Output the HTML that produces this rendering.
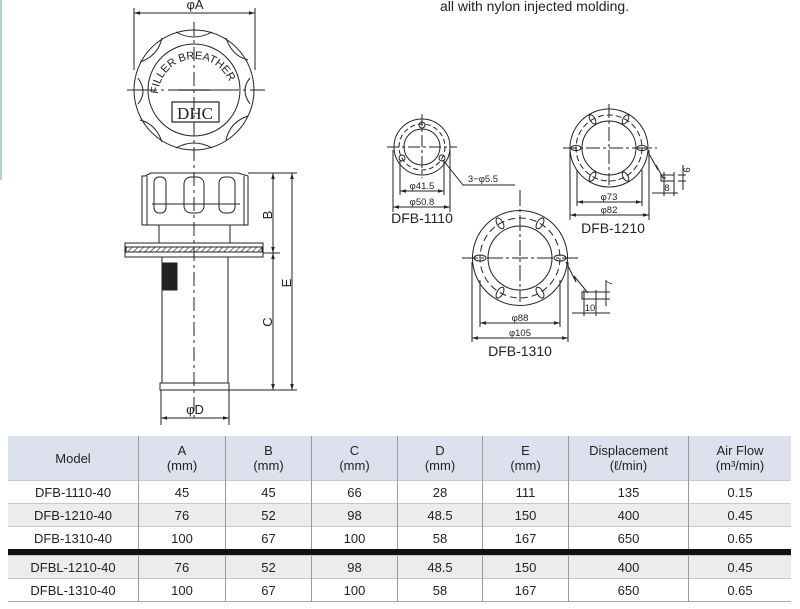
<!DOCTYPE html>
<html><head><meta charset="utf-8"><style>
body{margin:0;background:#fff;width:800px;height:609px;overflow:hidden;font-family:"Liberation Sans",sans-serif}
svg{position:absolute;left:0;top:0}
table{position:absolute;left:8px;top:436px;border-collapse:collapse;font-size:13px;color:#222}
td{text-align:center;padding:0;border-left:1px solid #9a9a9a;line-height:15px}
td:first-child{border-left:none}
tr.h td{background:#dde1ee;height:44px;font-size:13px}
tr.r td{height:22px;border-top:1px solid #c8c8c8}
tr.g td{background:#ececec}
tr.bar td{height:6px;background:#111;border:none}
table{border-bottom:1px solid #aaa}
</style></head><body>
<svg width="800" height="609" viewBox="0 0 800 609" font-family="Liberation Sans, sans-serif">
<defs>
<pattern id="hat" width="4" height="4" patternUnits="userSpaceOnUse" patternTransform="rotate(45)"><line x1="0" y1="0" x2="0" y2="4" stroke="#333" stroke-width="1.4"/></pattern>
<marker id="ar" viewBox="0 0 10 10" refX="10" refY="5" markerWidth="6" markerHeight="6" orient="auto-start-reverse"><path d="M0,2 L10,5 L0,8z" fill="#222"/></marker>
</defs>
<rect x="0" y="0" width="2" height="180" fill="#b8cfcc"/>
<text x="440" y="11" font-size="14" fill="#222">all with nylon injected molding.</text>
<g stroke="#222" fill="none" stroke-width="1">
<line x1="134" y1="8" x2="134" y2="70"/><line x1="255" y1="8" x2="255" y2="70"/>
<line x1="134" y1="13" x2="255" y2="13" marker-start="url(#ar)" marker-end="url(#ar)"/>
<circle cx="194" cy="90" r="60"/>
<circle cx="194" cy="90" r="46"/>
<path d="M176,32 q18,10 36,0 M226,38 q6,18 22,22 M250,78 q-10,12 0,26 M248,116 q-18,6 -22,24 M212,148 q-18,-10 -36,0 M162,142 q-6,-18 -22,-22 M138,104 q10,-12 0,-26 M140,62 q18,-6 22,-24"/>
<line x1="127" y1="90" x2="265" y2="90" stroke-dasharray="30,4,3,4"/>
<line x1="194" y1="22" x2="194" y2="420" stroke-dasharray="14,4,3,4"/>
<line x1="178" y1="90" x2="210" y2="90" stroke-width="1.3"/>
<rect x="172" y="102" width="47" height="20" stroke-width="1.2"/>
<path d="M145,176 L151,173 L238,173 L248,176 L248,225 L142,225 L142,176 Z"/>
<path d="M147,176 L147,225 M244,176 L244,225"/>
<rect x="154" y="177" width="12" height="36" rx="5"/>
<rect x="184" y="177" width="20" height="36" rx="7"/>
<rect x="219" y="177" width="16" height="36" rx="6"/>
<line x1="152" y1="204" x2="240" y2="204"/>
<rect x="159" y="225" width="71" height="18"/>
<rect x="125" y="243" width="138" height="14"/>
<rect x="126" y="247" width="136" height="5" fill="url(#hat)"/>
<rect x="162" y="257" width="66" height="126"/>
<rect x="163" y="263" width="14" height="27" fill="#222"/>
<rect x="160" y="383" width="69" height="7"/>
<line x1="248" y1="173" x2="297" y2="173"/>
<line x1="263" y1="253" x2="280" y2="253"/>
<line x1="229" y1="390" x2="297" y2="390"/>
<line x1="273" y1="173" x2="273" y2="253" marker-start="url(#ar)" marker-end="url(#ar)"/>
<line x1="273" y1="253" x2="273" y2="390" marker-start="url(#ar)" marker-end="url(#ar)"/>
<line x1="292" y1="173" x2="292" y2="390" marker-start="url(#ar)" marker-end="url(#ar)"/>
<line x1="161" y1="390" x2="161" y2="425"/><line x1="229" y1="390" x2="229" y2="425"/>
<line x1="161" y1="418" x2="229" y2="418" marker-start="url(#ar)" marker-end="url(#ar)"/>
<circle cx="422" cy="147" r="28"/><circle cx="422" cy="147" r="18"/>
<circle cx="422" cy="147" r="23" stroke-dasharray="5,3"/>
<line x1="387" y1="147" x2="457" y2="147" stroke-dasharray="12,3,3,3"/>
<line x1="422" y1="114" x2="422" y2="178" stroke-dasharray="12,3,3,3"/>
<circle cx="422" cy="125" r="3"/><circle cx="402" cy="158" r="3"/><circle cx="442" cy="158" r="3"/>
<line x1="393" y1="150" x2="393" y2="212"/><line x1="450" y1="150" x2="450" y2="212"/>
<line x1="400" y1="160" x2="400" y2="195"/><line x1="444" y1="160" x2="444" y2="195"/>
<line x1="400" y1="191" x2="444" y2="191" marker-start="url(#ar)" marker-end="url(#ar)"/>
<line x1="393" y1="207" x2="450" y2="207" marker-start="url(#ar)" marker-end="url(#ar)"/>
<polyline points="443,160 463,185 515,185"/>
<circle cx="609" cy="148" r="39"/><circle cx="609" cy="148" r="27"/>
<circle cx="609" cy="148" r="33" stroke-dasharray="6,3"/>
<line x1="563" y1="148" x2="657" y2="148" stroke-dasharray="14,3,3,3"/>
<line x1="609" y1="104" x2="609" y2="185" stroke-dasharray="14,3,3,3"/>
<g transform="translate(609,148)">
<ellipse cx="-33" cy="0" rx="5" ry="2.5"/><ellipse cx="33" cy="0" rx="5" ry="2.5"/>
<ellipse cx="0" cy="0" rx="5" ry="2.5" transform="rotate(-60) translate(33,0)"/>
<ellipse cx="0" cy="0" rx="5" ry="2.5" transform="rotate(-120) translate(33,0)"/>
<ellipse cx="0" cy="0" rx="5" ry="2.5" transform="rotate(60) translate(33,0)"/>
<ellipse cx="0" cy="0" rx="5" ry="2.5" transform="rotate(120) translate(33,0)"/>
</g>
<line x1="570" y1="150" x2="570" y2="220"/><line x1="649" y1="150" x2="649" y2="220"/>
<line x1="577" y1="170" x2="577" y2="206"/><line x1="642" y1="170" x2="642" y2="206"/>
<line x1="577" y1="202" x2="642" y2="202" marker-start="url(#ar)" marker-end="url(#ar)"/>
<line x1="570" y1="215" x2="649" y2="215" marker-start="url(#ar)" marker-end="url(#ar)"/>
<polyline points="648,152 658,170 656,165 663,178 666,178"/>
<rect x="661" y="175" width="13" height="6"/>
<line x1="664" y1="172" x2="664" y2="196"/><line x1="674" y1="172" x2="674" y2="196"/>
<line x1="678" y1="175" x2="686" y2="175"/><line x1="678" y1="181" x2="686" y2="181"/>
<line x1="683" y1="165" x2="683" y2="190"/>
<line x1="652" y1="193" x2="678" y2="193"/>
<circle cx="520" cy="258" r="47.5"/><circle cx="520" cy="258" r="32"/>
<circle cx="520" cy="258" r="40" stroke-dasharray="7,4"/>
<line x1="462" y1="258" x2="578" y2="258" stroke-dasharray="16,3,3,3"/>
<line x1="520" y1="190" x2="520" y2="302" stroke-dasharray="16,3,3,3"/>
<g transform="translate(520,258)">
<ellipse cx="-40" cy="0" rx="6" ry="3"/><ellipse cx="40" cy="0" rx="6" ry="3"/>
<ellipse cx="0" cy="0" rx="6" ry="3" transform="rotate(-60) translate(40,0)"/>
<ellipse cx="0" cy="0" rx="6" ry="3" transform="rotate(-120) translate(40,0)"/>
<ellipse cx="0" cy="0" rx="6" ry="3" transform="rotate(60) translate(40,0)"/>
<ellipse cx="0" cy="0" rx="6" ry="3" transform="rotate(120) translate(40,0)"/>
</g>
<line x1="472" y1="262" x2="472" y2="342"/><line x1="568" y1="262" x2="568" y2="342"/>
<line x1="480" y1="280" x2="480" y2="327"/><line x1="560" y1="280" x2="560" y2="327"/>
<line x1="480" y1="323" x2="560" y2="323" marker-start="url(#ar)" marker-end="url(#ar)"/>
<line x1="472" y1="338" x2="568" y2="338" marker-start="url(#ar)" marker-end="url(#ar)"/>
<polyline points="566,262 576,282 574,276 588,293"/>
<rect x="582" y="292" width="14" height="7"/>
<line x1="584" y1="290" x2="584" y2="316"/><line x1="596" y1="290" x2="596" y2="316"/>
<line x1="596" y1="292" x2="610" y2="292"/><line x1="596" y1="299" x2="610" y2="299"/>
<line x1="606" y1="280" x2="606" y2="306"/>
<line x1="572" y1="313" x2="610" y2="313"/>
</g>
<g fill="#222" font-size="13">
<text x="195" y="9" text-anchor="middle">φA</text>
<text x="195" y="414" text-anchor="middle">φD</text>
<text transform="translate(272,215) rotate(-90)" text-anchor="middle">B</text>
<text transform="translate(272,322) rotate(-90)" text-anchor="middle">C</text>
<text transform="translate(291,283) rotate(-90)" text-anchor="middle">E</text>
<text x="195" y="119" text-anchor="middle" font-family="Liberation Serif, serif" font-size="17">DHC</text>
<path id="arc" d="M158,96 A37,37 0 0 1 232,96" fill="none"/>
<text font-size="11"><textPath href="#arc" startOffset="2">FILLER BREATHER</textPath></text>
<text x="422" y="223" text-anchor="middle" font-size="14">DFB-1110</text>
<text x="613" y="233" text-anchor="middle" font-size="14">DFB-1210</text>
<text x="520" y="356" text-anchor="middle" font-size="14">DFB-1310</text>
</g>
<g fill="#222" font-size="9.5" text-anchor="middle">
<text x="422" y="189">φ41.5</text><text x="422" y="205">φ50.8</text>
<text x="483" y="182">3−φ5.5</text>
<text x="609" y="200">φ73</text><text x="609" y="213">φ82</text>
<text x="520" y="321">φ88</text><text x="520" y="336">φ105</text>
<text x="667" y="191">8</text><text x="590" y="311">10</text>
<text transform="translate(690,170) rotate(-90)">6</text>
<text transform="translate(612,283) rotate(-90)">7</text>
</g>
</svg>
<table>
<tr class="h"><td style="width:130px">Model</td><td style="width:86px">A<br>(mm)</td><td style="width:85px">B<br>(mm)</td><td style="width:85px">C<br>(mm)</td><td style="width:84px">D<br>(mm)</td><td style="width:85px">E<br>(mm)</td><td style="width:119px">Displacement<br>(ℓ/min)</td><td style="width:102px">Air Flow<br>(m³/min)</td></tr>
<tr class="r"><td>DFB-1110-40</td><td>45</td><td>45</td><td>66</td><td>28</td><td>111</td><td>135</td><td>0.15</td></tr>
<tr class="r g"><td>DFB-1210-40</td><td>76</td><td>52</td><td>98</td><td>48.5</td><td>150</td><td>400</td><td>0.45</td></tr>
<tr class="r"><td>DFB-1310-40</td><td>100</td><td>67</td><td>100</td><td>58</td><td>167</td><td>650</td><td>0.65</td></tr>
<tr class="bar"><td colspan="8"></td></tr>
<tr class="r g"><td>DFBL-1210-40</td><td>76</td><td>52</td><td>98</td><td>48.5</td><td>150</td><td>400</td><td>0.45</td></tr>
<tr class="r"><td>DFBL-1310-40</td><td>100</td><td>67</td><td>100</td><td>58</td><td>167</td><td>650</td><td>0.65</td></tr>
</table>
</body></html>
